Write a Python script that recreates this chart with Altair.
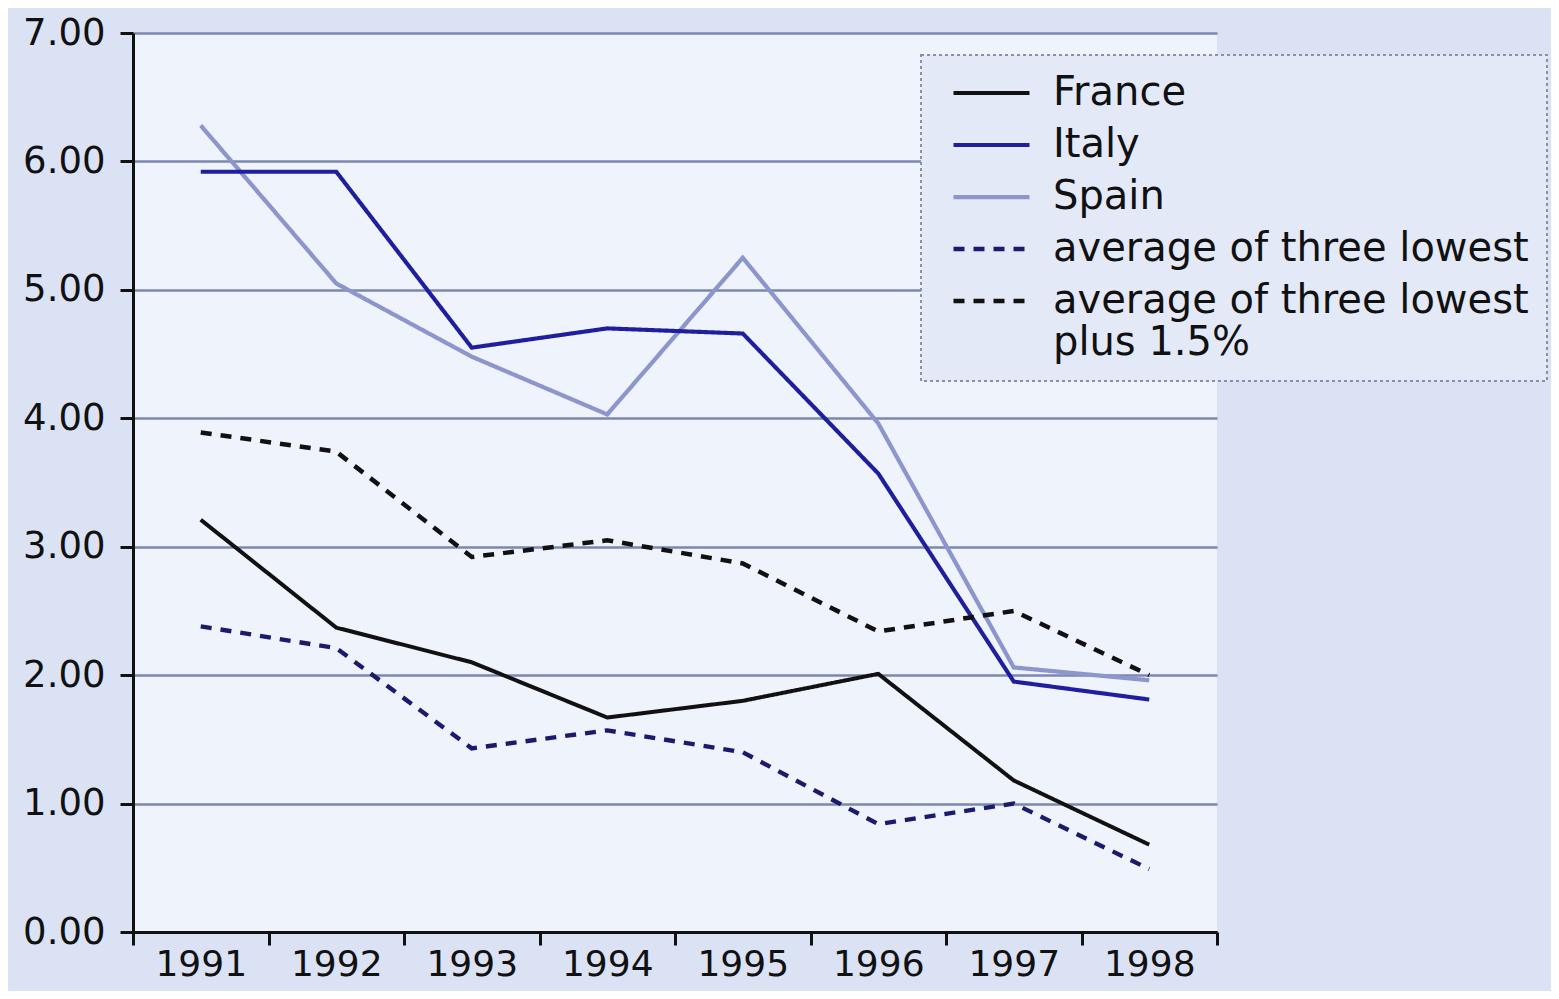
import altair as alt
import pandas as pd

years = ["1991", "1992", "1993", "1994", "1995", "1996", "1997", "1998"]
france = [3.21, 2.37, 2.10, 1.67, 1.80, 2.01, 1.18, 0.68]
italy = [5.92, 5.92, 4.55, 4.70, 4.66, 3.57, 1.95, 1.81]
spain = [6.28, 5.05, 4.48, 4.03, 5.25, 3.96, 2.06, 1.96]
avg_three = [2.38, 2.21, 1.43, 1.57, 1.40, 0.84, 1.00, 0.49]
avg_three_plus = [3.89, 3.74, 2.92, 3.05, 2.87, 2.34, 2.50, 2.00]

series_names = [
    "France",
    "Italy",
    "Spain",
    "average of three lowest",
    "average of three lowest plus 1.5%",
]
series_values = [france, italy, spain, avg_three, avg_three_plus]
series_colors = ["#111111", "#1f1f9e", "#8d96cc", "#1b1b6e", "#111111"]
series_dash = [[1, 0], [1, 0], [1, 0], [11, 9], [11, 9]]
series_width = [4, 4.5, 3, 3.5, 3]
y_ticks = [0, 1, 2, 3, 4, 5, 6, 7]

rows = []
for name, vals in zip(series_names, series_values):
    for yr, v in zip(years, vals):
        rows.append({"year": yr, "value": v, "series": name})
df = pd.DataFrame(rows)

last = series_names[-1]
label_expr = (
    f"datum.label == '{last}' ? ['average of three lowest', 'plus 1.5%'] : datum.label"
)

legend = alt.Legend(
    title=None,
    orient="none",
    legendX=788,
    legendY=22,
    direction="vertical",
    symbolType="stroke",
    symbolSize=5776,
    symbolStrokeWidth=3.5,
    symbolOffset=12,
    clipHeight=40,
    labelFont="DejaVu Sans",
    labelFontSize=40,
    labelColor="#111111",
    labelLimit=900,
    labelOffset=21,
    rowPadding=12,
    padding=18,
    fillColor="#e3e9f7",
    strokeColor="#8a90a8",
    labelExpr=label_expr,
)

x_enc = alt.X(
    "year:O",
    scale=alt.Scale(type="band", domain=years, paddingInner=0, paddingOuter=0),
    axis=alt.Axis(
        title=None,
        labelAngle=0,
        tickBand="extent",
        grid=False,
        labelFont="DejaVu Sans",
        labelFontSize=36,
        labelColor="#111111",
        labelPadding=2,
        tickSize=13,
        tickWidth=3,
        tickColor="#111111",
        domainColor="#111111",
        domainWidth=3,
    ),
)
y_enc = alt.Y(
    "value:Q",
    scale=alt.Scale(domain=[0, 7], nice=False, zero=True),
    axis=alt.Axis(
        title=None,
        values=y_ticks,
        format=".2f",
        labelFont="DejaVu Sans",
        labelFontSize=37,
        labelColor="#111111",
        labelPadding=15,
        tickSize=13,
        tickWidth=3,
        tickColor="#111111",
        domainColor="#111111",
        domainWidth=3,
        grid=True,
        gridColor="#7c87b0",
        gridWidth=2.5,
    ),
)

color_enc = alt.Color(
    "series:N",
    scale=alt.Scale(domain=series_names, range=series_colors),
    legend=legend,
)
dash_enc = alt.StrokeDash(
    "series:N",
    scale=alt.Scale(domain=series_names, range=series_dash),
    legend=legend,
)
width_enc = alt.StrokeWidth(
    "series:N",
    scale=alt.Scale(domain=series_names, range=series_width),
    legend=None,
)

base = alt.Chart(df).mark_line().encode(
    x=x_enc, y=y_enc, color=color_enc, strokeDash=dash_enc, strokeWidth=width_enc
)

spain_layer = base.transform_filter(alt.datum.series == "Spain")
others_layer = base.transform_filter(alt.datum.series != "Spain")

chart = (
    alt.layer(spain_layer, others_layer)
    .properties(
        width=1084,
        height=899,
        background="#dbe2f4",
        autosize=alt.AutoSizeParams(type="none"),
        padding={"left": 125, "top": 25, "right": 334, "bottom": 59},
    )
    .configure_view(fill="#eff3fc", stroke=None)
    .configure_legend(strokeDash=[3, 3], strokeWidth=2)
)

chart.save("out.html", embed_options={"renderer": "svg", "actions": False})
